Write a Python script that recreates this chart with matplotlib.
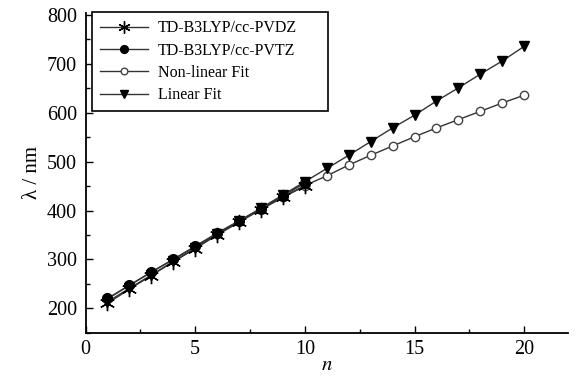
import matplotlib
matplotlib.use("Agg")
import matplotlib.pyplot as plt
from matplotlib.ticker import MultipleLocator

# data
n_calc = [1, 2, 3, 4, 5, 6, 7, 8, 9, 10]
n_fit = list(range(1, 21))
pvdz = [210, 239, 267, 295, 322, 350, 376, 402, 427, 450]
pvtz = [220, 247, 274, 300, 327, 354, 379, 404, 430, 456]
nonlinear = [219, 247, 274, 300, 326, 352, 378, 403, 428, 451,
             471, 493, 513, 532, 551, 569, 586, 603, 620, 636]
linear = [213, 241, 268, 296, 323, 351, 378, 405, 432, 459,
          486, 513, 541, 569, 595, 624, 651, 679, 706, 736]

plt.rcParams["font.family"] = ["Liberation Serif", "DejaVu Serif"]
plt.rcParams["mathtext.fontset"] = "stix"

fig = plt.figure(figsize=(5.76, 3.76), dpi=100)
ax = fig.add_axes([0.1485, 0.1152, 0.8377, 0.8513])

ax.plot(n_calc, pvdz, color="#333333", lw=1.0, marker=(6, 2, 0),
        ms=11, mew=1.0, mec="black", label="TD-B3LYP/cc-PVDZ", zorder=3)
ax.plot(n_calc, pvtz, color="#333333", lw=1.0, marker="o",
        ms=7, mfc="black", mec="black", label="TD-B3LYP/cc-PVTZ", zorder=4)
ax.plot(n_fit, nonlinear, color="#333333", lw=1.0, marker="o",
        ms=6, mfc="white", mec="#444444", mew=1.0, label="Non-linear Fit", zorder=2)
ax.plot(n_fit, linear, color="#333333", lw=1.0, marker="v",
        ms=7, mfc="black", mec="black", label="Linear Fit", zorder=2)

ax.set_xlim(0, 22)
ax.set_ylim(150, 805)
ax.xaxis.set_major_locator(MultipleLocator(5))
ax.xaxis.set_minor_locator(MultipleLocator(2.5))
ax.yaxis.set_major_locator(MultipleLocator(100))
ax.yaxis.set_minor_locator(MultipleLocator(50))
ax.set_yticks([200, 300, 400, 500, 600, 700, 800])

for side in ["top", "right"]:
    ax.spines[side].set_visible(False)
for side in ["left", "bottom"]:
    ax.spines[side].set_linewidth(1.3)

ax.tick_params(which="both", direction="in", width=1.0, labelsize=14.5)
ax.tick_params(which="major", length=5)
ax.tick_params(which="minor", length=3)
ax.tick_params(axis="y", pad=6)
ax.tick_params(axis="x", pad=5)

ax.set_xlabel("$n$", fontsize=15, labelpad=-2)
ax.set_ylabel("λ / nm", fontsize=15, labelpad=4)

# legend box spans a fixed width like the reference
leg = ax.legend(loc="upper left", bbox_to_anchor=(0.0135, 1.001, 0.489, 0.0),
                mode="expand", borderaxespad=0,
                fontsize=11.5, fancybox=False, framealpha=1, edgecolor="black",
                handlelength=3.0, handletextpad=0.6, labelspacing=0.4,
                borderpad=0.5, markerscale=0.8)
leg.get_frame().set_linewidth(1.2)

fig.savefig("out.png", dpi=100)
